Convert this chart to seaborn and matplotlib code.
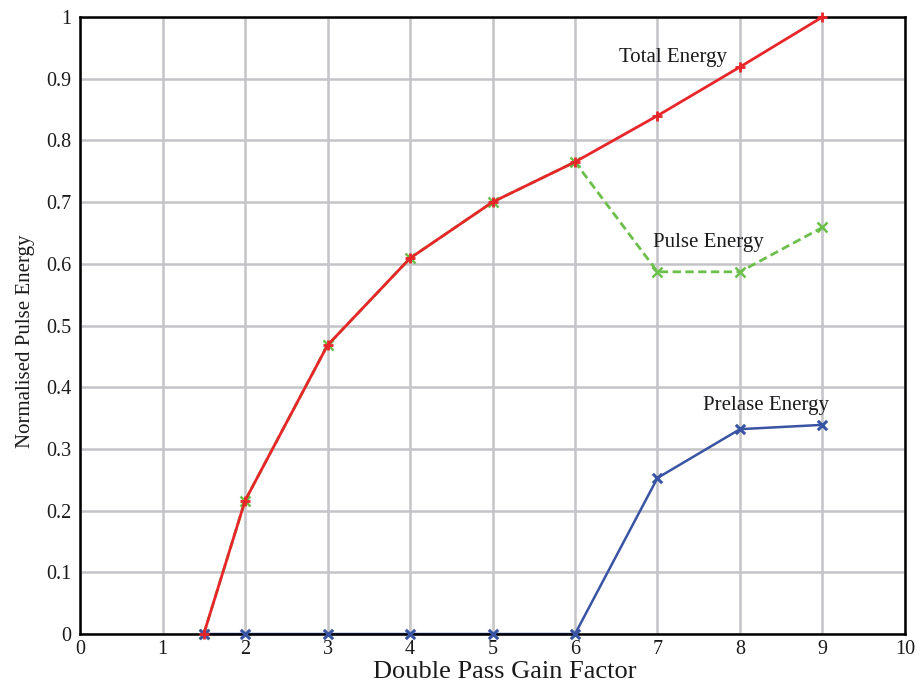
import matplotlib
matplotlib.use("Agg")
import matplotlib.pyplot as plt
import seaborn as sns
import pandas as pd

# Double pass gain factor samples
gain = [1.5, 2, 3, 4, 5, 6, 7, 8, 9]
total_energy = [0.0, 0.216, 0.468, 0.609, 0.700, 0.765, 0.840, 0.919, 1.0]
pulse_energy = [0.0, 0.216, 0.468, 0.609, 0.700, 0.765, 0.587, 0.587, 0.659]
prelase_energy = [0.0, 0.0, 0.0, 0.0, 0.0, 0.0, 0.253, 0.332, 0.339]

x_ticks = list(range(0, 11))
y_ticks = [0, 0.1, 0.2, 0.3, 0.4, 0.5, 0.6, 0.7, 0.8, 0.9, 1.0]
y_tick_labels = ["0", "0.1", "0.2", "0.3", "0.4", "0.5", "0.6", "0.7", "0.8", "0.9", "1"]

sns.set_style("white")
plt.rcParams["font.family"] = ["Liberation Serif", "DejaVu Serif"]

df = pd.DataFrame({"gain": gain, "total": total_energy,
                   "pulse": pulse_energy, "prelase": prelase_energy})

fig = plt.figure(figsize=(9.21, 6.87), dpi=100)
ax = fig.add_axes([0.0869, 0.0771, 0.8957, 0.8982])

red = "#e8262a"
green = "#6cbf4a"
blue = "#3a54a4"

# prelase line sits under the axis frame; its markers are drawn on top
sns.lineplot(data=df, x="gain", y="prelase", ax=ax, color=blue, lw=1.8,
             clip_on=False, zorder=2)
sns.scatterplot(data=df, x="gain", y="prelase", ax=ax, color=blue, marker="x",
                s=45, linewidth=2.2, clip_on=False, zorder=7)
sns.lineplot(data=df, x="gain", y="pulse", ax=ax, color=green, lw=2.0,
             linestyle=(0, (3, 1.6)), marker="x", markersize=7, markeredgewidth=1.8,
             markeredgecolor=green, clip_on=False, zorder=5)
sns.lineplot(data=df, x="gain", y="total", ax=ax, color=red, lw=2.0,
             marker="+", markersize=7, markeredgewidth=2.0, markeredgecolor=red,
             clip_on=False, zorder=8)

ax.set_xlim(0, 10)
ax.set_ylim(0, 1)
ax.set_xticks(x_ticks)
ax.set_xticklabels([str(t) for t in x_ticks])
ax.set_yticks(y_ticks)
ax.set_yticklabels(y_tick_labels)

ax.grid(True, color="#c4c4c8", lw=1.8, zorder=0)
ax.set_axisbelow(True)
for s in ax.spines.values():
    s.set_color("black")
    s.set_linewidth(1.8)
    s.set_visible(True)
    s.set_zorder(3)

ax.tick_params(axis="both", direction="in", length=5, width=1.8, color="black",
               labelsize=14.5, top=False, right=False, pad=6, labelcolor="#1a1a1a")
ax.tick_params(axis="x", pad=4)

ax.set_xlabel("Double Pass Gain Factor", fontsize=19, color="#1a1a1a")
ax.set_ylabel("Normalised Pulse Energy", fontsize=15, color="#1a1a1a")
ax.xaxis.set_label_coords(0.515, -0.044)
ax.yaxis.set_label_coords(-0.054, 0.475)

ax.text(7.19, 0.935, "Total Energy", fontsize=15, ha="center", va="center", color="#1a1a1a")
ax.text(7.62, 0.635, "Pulse Energy", fontsize=15, ha="center", va="center", color="#1a1a1a")
ax.text(8.32, 0.370, "Prelase Energy", fontsize=15, ha="center", va="center", color="#1a1a1a")

fig.savefig("out.png", dpi=100)
